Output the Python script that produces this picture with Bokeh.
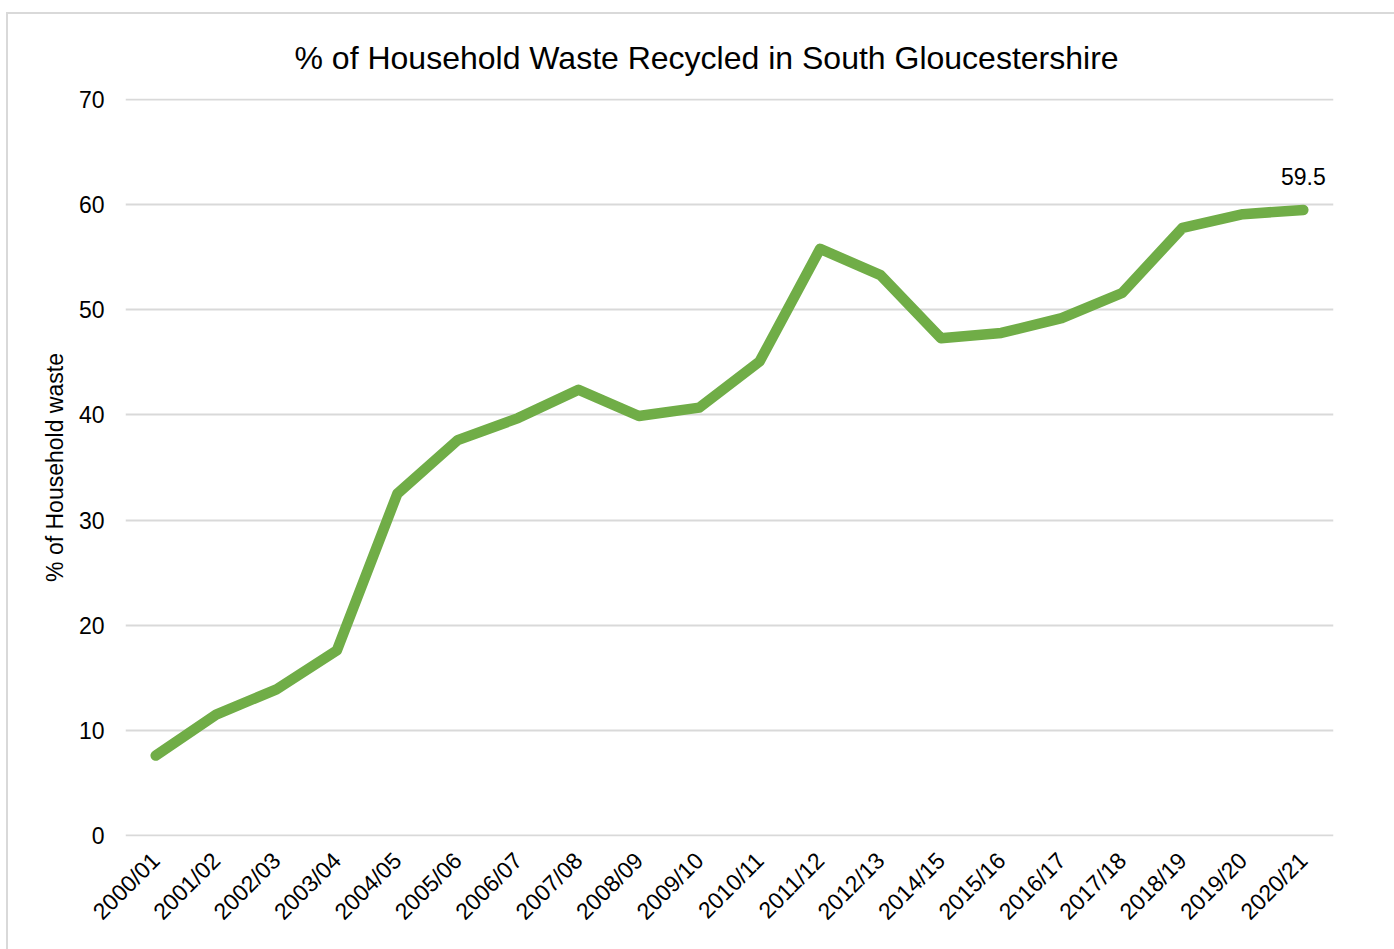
from bokeh.plotting import figure
from bokeh.models import FactorRange, Range1d, FixedTicker, ColumnDataSource
from bokeh.core.properties import value
from bokeh.embed import file_html
from bokeh.resources import INLINE
import math

categories = ["2000/01", "2001/02", "2002/03", "2003/04", "2004/05", "2005/06",
              "2006/07", "2007/08", "2008/09", "2009/10", "2010/11", "2011/12",
              "2012/13", "2014/15", "2015/16", "2016/17", "2017/18", "2018/19",
              "2019/20", "2020/21"]
recycled = [7.6, 11.5, 13.9, 17.6, 32.5, 37.6, 39.7, 42.4, 39.9, 40.7, 45.1, 55.8,
            53.3, 47.3, 47.8, 49.2, 51.6, 57.8, 59.1, 59.5]
y_ticks = [0, 10, 20, 30, 40, 50, 60, 70]
title_text = "% of Household Waste Recycled in South Gloucestershire"

FONT = "Liberation Sans"
TXT = "#000000"

p = figure(x_range=FactorRange(factors=categories), y_range=Range1d(-0.1, 70.1),
           width=1400, height=957, output_backend="svg", toolbar_location=None,
           min_border_left=117, min_border_right=75, min_border_top=84,
           min_border_bottom=135, title=title_text)
p.margin = (12, 0, 0, 6)
p.styles = {"border": "2px solid #d9d9d9"}
p.outline_line_color = None
p.background_fill_color = "white"
p.border_fill_color = "white"

p.title.align = "left"
p.title.offset = 169
p.title.standoff = 45
p.title.text_font = FONT
p.title.text_font_size = "32px"
p.title.text_font_style = "normal"
p.title.text_color = TXT

p.xgrid.grid_line_color = None
p.ygrid.grid_line_color = "#d9d9d9"
p.ygrid.grid_line_width = 2

p.yaxis.ticker = FixedTicker(ticks=y_ticks)
p.yaxis.axis_line_color = None
p.yaxis.major_tick_line_color = None
p.yaxis.minor_tick_line_color = None
p.yaxis.major_tick_in = 0
p.yaxis.major_tick_out = 0
p.yaxis.major_label_standoff = 21
p.yaxis.axis_label = "% of Household waste"
p.yaxis.axis_label_standoff = 8
p.yaxis.axis_label_text_font_style = "normal"

p.xaxis.axis_line_color = None
p.xaxis.major_tick_line_color = None
p.xaxis.major_tick_in = 0
p.xaxis.major_tick_out = 0
p.xaxis.major_label_standoff = 20
p.xaxis.major_label_orientation = math.pi / 4

for ax in (p.xaxis, p.yaxis):
    ax.major_label_text_font = FONT
    ax.major_label_text_font_size = "23px"
    ax.major_label_text_color = TXT
    ax.axis_label_text_font = FONT
    ax.axis_label_text_font_size = "23px"
    ax.axis_label_text_color = TXT

src = ColumnDataSource(data=dict(x=categories, y=recycled))
p.line("x", "y", source=src, line_color="#70AD47", line_width=10.5,
       line_join="round", line_cap="round")

lbl = ColumnDataSource(data=dict(x=[categories[-1]], y=[recycled[-1]],
                                 t=[f"{recycled[-1]:.1f}"]))
p.text("x", "y", text="t", source=lbl, text_font=value(FONT),
       text_font_size="23px", text_color=TXT, text_align="center",
       text_baseline="alphabetic", y_offset=-33)

open("out.html", "w").write(file_html(p, INLINE))
